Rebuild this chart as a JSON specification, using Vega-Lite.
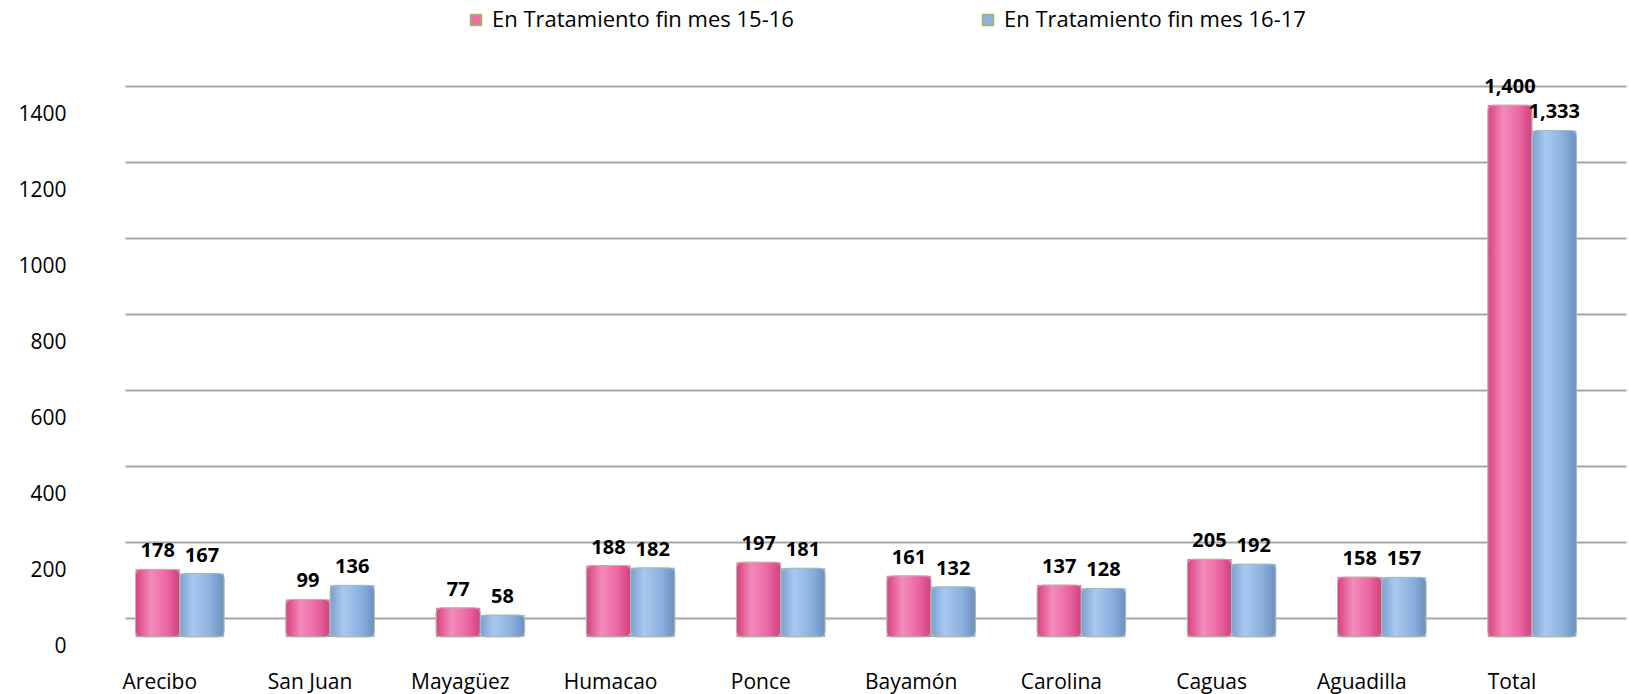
{
  "$schema": "https://vega.github.io/schema/vega-lite/v6.json",
  "width": 1501,
  "height": 532,
  "autosize": {"type": "none"},
  "padding": {"left": 125, "top": 105, "right": 3, "bottom": 57},
  "background": "white",
  "config": {"view": {"stroke": null}, "font": "Open Sans"},
  "data": {
    "values": [
      {"region": "Arecibo", "serie": "En Tratamiento fin  mes 15-16", "value": 178},
      {"region": "Arecibo", "serie": "En Tratamiento fin mes 16-17", "value": 167},
      {"region": "San Juan", "serie": "En Tratamiento fin  mes 15-16", "value": 99},
      {"region": "San Juan", "serie": "En Tratamiento fin mes 16-17", "value": 136},
      {"region": "Mayagüez", "serie": "En Tratamiento fin  mes 15-16", "value": 77},
      {"region": "Mayagüez", "serie": "En Tratamiento fin mes 16-17", "value": 58},
      {"region": "Humacao", "serie": "En Tratamiento fin  mes 15-16", "value": 188},
      {"region": "Humacao", "serie": "En Tratamiento fin mes 16-17", "value": 182},
      {"region": "Ponce", "serie": "En Tratamiento fin  mes 15-16", "value": 197},
      {"region": "Ponce", "serie": "En Tratamiento fin mes 16-17", "value": 181},
      {"region": "Bayamón", "serie": "En Tratamiento fin  mes 15-16", "value": 161},
      {"region": "Bayamón", "serie": "En Tratamiento fin mes 16-17", "value": 132},
      {"region": "Carolina", "serie": "En Tratamiento fin  mes 15-16", "value": 137},
      {"region": "Carolina", "serie": "En Tratamiento fin mes 16-17", "value": 128},
      {"region": "Caguas", "serie": "En Tratamiento fin  mes 15-16", "value": 205},
      {"region": "Caguas", "serie": "En Tratamiento fin mes 16-17", "value": 192},
      {"region": "Aguadilla", "serie": "En Tratamiento fin  mes 15-16", "value": 158},
      {"region": "Aguadilla", "serie": "En Tratamiento fin mes 16-17", "value": 157},
      {"region": "Total", "serie": "En Tratamiento fin  mes 15-16", "value": 1400},
      {"region": "Total", "serie": "En Tratamiento fin mes 16-17", "value": 1333}
    ]
  },
  "encoding": {
    "x": {
      "field": "region",
      "type": "nominal",
      "sort": null,
      "scale": {"paddingInner": 0.41, "paddingOuter": 0.2, "align": 0.175},
      "axis": {
        "title": null,
        "labelAngle": 0,
        "ticks": false,
        "domain": false,
        "labelFontSize": 21,
        "labelColor": "#000000",
        "labelPadding": 34,
        "labelOffset": -20,
        "labelFont": "Open Sans"
      }
    },
    "xOffset": {
      "field": "serie",
      "type": "nominal",
      "sort": null,
      "scale": {"paddingInner": 0, "paddingOuter": 0}
    },
    "y": {
      "field": "value",
      "type": "quantitative",
      "scale": {"domain": [0, 1400], "nice": false},
      "axis": {
        "title": null,
        "values": [0, 200, 400, 600, 800, 1000, 1200, 1400],
        "format": "d",
        "ticks": false,
        "domain": false,
        "grid": true,
        "gridColor": "#a6a6a6",
        "gridWidth": 2,
        "tickOffset": -19,
        "labelOffset": 28,
        "labelPadding": 59,
        "labelFontSize": 21,
        "labelColor": "#000000",
        "labelFont": "Open Sans"
      }
    }
  },
  "layer": [
    {
      "mark": {"type": "bar"},
      "encoding": {
        "color": {
          "field": "serie",
          "type": "nominal",
          "sort": null,
          "scale": {"range": ["#ec6fa6", "#8db4e2"]},
          "legend": {
            "orient": "none",
            "legendX": 340,
            "legendY": -96,
            "direction": "horizontal",
            "title": null,
            "symbolType": "square",
            "symbolSize": 121,
            "symbolStrokeColor": "#9bbb59",
            "symbolStrokeWidth": 1.5,
            "labelFontSize": 22,
            "labelFont": "Open Sans",
            "labelColor": "#000000",
            "labelLimit": 500,
            "labelOffset": 5,
            "columnPadding": 177
          }
        }
      }
    },
    {
      "mark": {"type": "bar", "stroke": "#a9bda6", "strokeWidth": 1, "cornerRadius": 6},
      "encoding": {
        "fill": {
          "condition": {
            "test": "indexof(datum.serie, '15-16') >= 0",
            "value": {
              "gradient": "linear", "x1": 0, "x2": 1, "y1": 0, "y2": 0,
              "stops": [
                {"offset": 0, "color": "#d9407f"},
                {"offset": 0.35, "color": "#f38cba"},
                {"offset": 0.7, "color": "#eb68a2"},
                {"offset": 1, "color": "#d23f80"}
              ]
            }
          },
          "value": {
            "gradient": "linear", "x1": 0, "x2": 1, "y1": 0, "y2": 0,
            "stops": [
              {"offset": 0, "color": "#7b9fd0"},
              {"offset": 0.3, "color": "#a9c8ef"},
              {"offset": 0.7, "color": "#8bb0de"},
              {"offset": 1, "color": "#6b8fc0"}
            ]
          }
        }
      }
    },
    {
      "mark": {"type": "text", "baseline": "bottom", "dy": -8, "fontWeight": "bold", "fontSize": 20, "color": "#000000", "font": "Open Sans"},
      "encoding": {
        "text": {"field": "value", "type": "quantitative", "format": ","}
      }
    }
  ]
}
